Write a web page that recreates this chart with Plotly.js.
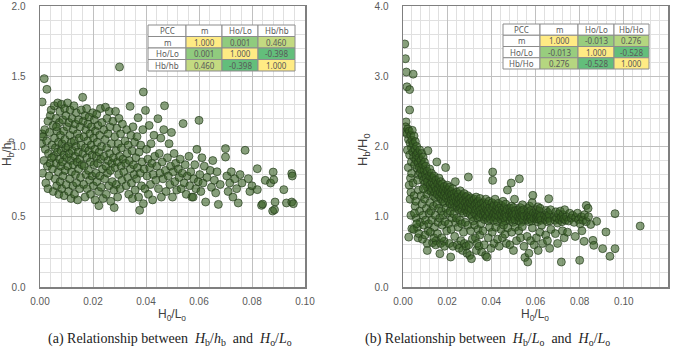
<!DOCTYPE html>
<html><head><meta charset="utf-8">
<script src="https://cdn.plot.ly/plotly-3.0.1.min.js"></script>
<style>html,body{margin:0;padding:0;background:#fff}#chart{width:675px;height:349px}</style>
</head><body><div id="chart"></div>
<script>
// ---- (a) Hb/hb vs Ho/Lo ----
const aPoints = [
[0.0008,1.317],[0.0016,1.483],[0.0026,1.407],[0.0006,1.02],[0.0008,1.09],[0.0010,0.81],[0.0012,1.07],[0.0015,0.90],[0.0018,1.12],[0.0020,0.98],[0.0022,0.74],[0.0025,1.04],[0.0028,0.86],[0.0030,1.18],[0.0032,0.95],[0.0034,0.79],[0.0036,1.10],[0.0038,0.88],[0.0039,1.22],[0.0030,0.70],
[0.0042,1.26],[0.0045,1.01],[0.0047,0.84],[0.0049,1.15],[0.0050,0.68],[0.0052,0.93],[0.0054,1.29],[0.0055,1.06],[0.0057,0.77],[0.0058,0.99],[0.0060,1.20],[0.0061,0.88],[0.0063,0.72],[0.0064,1.11],[0.0066,0.96],[0.0067,1.31],[0.0069,0.82],[0.0070,1.03],[0.0071,0.66],[0.0073,1.17],[0.0074,0.91],[0.0075,1.25],[0.0076,0.75],[0.0077,1.08],[0.0078,0.86],[0.0079,0.97],[0.0044,0.92],[0.0062,1.14],
[0.0081,1.30],[0.0082,0.70],[0.0083,1.02],[0.0085,0.89],[0.0086,1.19],[0.0087,0.79],[0.0089,1.11],[0.0090,0.94],[0.0091,0.65],[0.0093,1.27],[0.0094,1.05],[0.0095,0.83],[0.0097,0.99],[0.0098,1.22],[0.0099,0.73],[0.0101,0.92],[0.0102,1.14],[0.0104,1.31],[0.0105,0.86],[0.0106,1.00],[0.0108,0.68],[0.0109,1.17],[0.0110,0.95],[0.0112,0.77],[0.0113,1.08],[0.0114,1.26],[0.0116,0.90],[0.0117,0.63],[0.0118,1.03],[0.0119,0.82],
[0.0121,1.20],[0.0122,0.97],[0.0124,0.72],[0.0125,1.12],[0.0126,0.87],[0.0128,1.29],[0.0129,1.04],[0.0130,0.66],[0.0132,0.93],[0.0133,1.16],[0.0134,0.80],[0.0136,1.00],[0.0137,1.24],[0.0138,0.74],[0.0140,0.89],[0.0141,1.09],[0.0142,0.62],[0.0144,0.96],[0.0145,1.19],[0.0146,0.84],[0.0148,1.06],[0.0149,0.70],[0.0150,0.91],[0.0152,1.14],[0.0153,0.78],[0.0155,1.01],[0.0156,1.26],[0.0158,0.87],
[0.0161,1.35],[0.0162,0.95],[0.0163,1.18],[0.0165,0.73],[0.0166,1.07],[0.0167,0.86],[0.0169,1.22],[0.0170,0.64],[0.0171,0.99],[0.0173,1.12],[0.0174,0.80],[0.0176,1.27],[0.0177,0.92],[0.0178,0.70],[0.0180,1.04],[0.0181,1.16],[0.0183,0.83],[0.0184,0.97],[0.0185,1.21],[0.0187,0.76],[0.0188,1.09],[0.0190,0.89],[0.0191,0.66],[0.0193,1.01],[0.0194,1.14],[0.0196,0.79],[0.0197,0.94],[0.0199,1.24],
[0.0201,0.72],[0.0202,1.06],[0.0204,0.87],[0.0205,1.19],[0.0207,0.98],[0.0208,0.62],[0.0209,1.11],[0.0211,0.81],[0.0212,0.93],[0.0214,1.23],[0.0215,0.75],[0.0216,1.03],[0.0218,0.88],[0.0219,1.15],[0.0221,0.68],[0.0222,0.579],[0.0223,0.96],[0.0225,1.08],[0.0226,0.79],[0.0228,1.27],[0.0229,0.91],[0.0231,0.71],[0.0232,1.00],[0.0234,1.17],[0.0236,0.84],[0.0238,0.63],
[0.0241,1.12],[0.0242,0.93],[0.0244,0.77],[0.0246,1.05],[0.0247,1.28],[0.0249,0.86],[0.0250,0.66],[0.0252,0.99],[0.0253,1.20],[0.0255,0.81],[0.0257,1.09],[0.0258,0.90],[0.0260,0.72],[0.0261,1.25],[0.0263,0.95],[0.0264,1.14],[0.0266,0.83],[0.0267,0.61],[0.0269,1.02],[0.0271,0.88],[0.0273,0.75],[0.0275,1.18],[0.0277,0.92],[0.0279,0.69],
[0.0280,0.565],[0.0282,1.07],[0.0283,0.85],[0.0285,1.25],[0.0287,0.97],[0.0288,0.73],[0.0290,1.13],[0.0292,0.89],[0.0293,0.64],[0.0295,1.02],[0.0297,0.80],[0.0298,1.20],[0.0300,1.566],[0.0300,0.93],[0.0302,0.70],[0.0304,1.09],[0.0306,0.86],[0.0307,0.99],[0.0309,0.76],[0.0311,1.16],[0.0313,0.91],[0.0316,0.82],
[0.0321,1.04],[0.0323,0.88],[0.0325,0.72],[0.0327,1.12],[0.0329,0.95],[0.0331,0.78],[0.0333,1.01],[0.0335,0.66],[0.0337,0.90],[0.0340,1.286],[0.0341,0.84],[0.0343,1.08],[0.0345,0.74],[0.0347,0.97],[0.0349,0.63],[0.0351,1.14],[0.0353,0.87],[0.0355,0.80],[0.0357,1.03],[0.0359,0.69],
[0.0362,0.92],[0.0364,0.77],[0.0366,1.07],[0.0368,0.85],[0.0370,1.205],[0.0372,0.64],[0.0374,0.96],[0.0376,0.546],[0.0378,0.81],[0.0380,1.01],[0.0383,0.72],[0.0385,0.89],[0.0388,1.12],[0.0390,1.388],[0.0390,0.593],[0.0393,0.84],[0.0396,0.70],[0.0398,1.257],
[0.0402,0.98],[0.0404,0.79],[0.0407,0.91],[0.0409,0.66],[0.0412,1.15],[0.0414,0.85],[0.0417,0.73],[0.0419,1.02],[0.0422,0.88],[0.0425,0.62],[0.0427,0.80],[0.0430,1.08],[0.0433,0.93],[0.0437,0.76],
[0.0441,0.86],[0.0445,1.198],[0.0447,0.70],[0.0450,0.95],[0.0453,0.81],[0.0456,1.06],[0.0458,0.64],[0.0461,0.89],[0.0464,0.77],[0.0467,1.12],[0.0470,1.29],[0.0473,0.83],[0.0476,0.68],
[0.0481,0.92],[0.0484,0.79],[0.0487,1.02],[0.0490,0.73],[0.0493,0.86],[0.0496,1.10],[0.0500,0.64],[0.0503,0.82],[0.0506,0.95],[0.0509,0.75],[0.0512,0.88],[0.0516,0.69],
[0.0522,0.84],[0.0525,0.78],[0.0529,0.91],[0.0533,0.70],[0.0537,0.81],[0.0540,1.163],[0.0544,0.74],[0.0548,0.87],[0.0552,0.66],[0.0556,0.79],
[0.0562,0.93],[0.0565,0.72],[0.0569,0.82],[0.0573,0.64],[0.0578,0.640],[0.0580,0.77],[0.0584,0.87],[0.0588,0.70],[0.0592,0.98],[0.0597,0.75],
[0.0600,1.186],[0.0603,0.80],[0.0607,0.68],[0.0611,0.92],[0.0615,0.74],[0.0620,0.86],[0.0625,0.605],[0.0630,0.78],
[0.0642,0.83],[0.0647,0.71],[0.0652,0.90],[0.0658,0.76],[0.0663,0.67],[0.0668,0.82],[0.0673,0.588],[0.0680,0.73],
[0.0700,0.985],[0.0700,0.925],[0.0705,0.79],[0.0710,0.68],[0.0716,0.74],[0.0722,0.82],[0.0728,0.64],[0.0735,0.77],[0.0742,0.70],[0.0748,0.598],[0.0755,0.80],[0.0762,0.74],[0.0774,0.973],[0.0786,0.771],[0.0792,0.68],
[0.0800,0.72],[0.0820,0.842],[0.0820,0.693],[0.0836,0.581],[0.0840,0.59],[0.0850,0.759],[0.0870,0.74],[0.0878,0.541],[0.0880,0.818],[0.0882,0.764],[0.0887,0.605],[0.0885,0.55],[0.0920,0.693],[0.0930,0.598],[0.0950,0.807],[0.0952,0.79],[0.0950,0.605],[0.0956,0.593]
];
// ---- (b) Hb/Ho vs Ho/Lo ----
const bPoints = [
[0.0008,3.46],[0.0011,3.25],[0.0015,3.06],[0.0046,3.03],[0.0018,2.85],[0.0030,2.81],[0.0030,2.52],[0.0014,2.35],[0.0008,2.21],[0.0026,0.71],
[0.0012,2.28],[0.0018,2.18],[0.0022,2.25],[0.0025,2.10],[0.0028,2.22],[0.0032,2.05],[0.0035,2.16],[0.0038,1.98],[0.0020,1.95],[0.0024,1.70],[0.0030,1.88],[0.0034,1.55],[0.0036,1.35],[0.0028,1.45],[0.0040,2.09],[0.0038,1.78],[0.0032,1.25],[0.0036,1.02],[0.0040,0.83],[0.0039,1.62],
[0.0042,2.23],[0.0044,1.92],[0.0046,2.04],[0.0048,1.85],[0.0050,2.15],[0.0052,1.74],[0.0054,1.96],[0.0056,2.07],[0.0058,1.81],[0.0060,1.88],[0.0062,2.00],[0.0064,1.69],[0.0066,1.91],[0.0068,1.77],[0.0070,1.60],[0.0072,1.84],[0.0074,1.70],[0.0076,1.95],[0.0078,1.63],
[0.0045,1.48],[0.0050,1.30],[0.0055,1.15],[0.0060,0.98],[0.0065,0.85],[0.0048,0.82],[0.0070,1.38],[0.0075,1.08],[0.0078,0.92],[0.0058,1.22],[0.0068,0.70],[0.0072,0.76],[0.0062,0.90],[0.0052,1.05],[0.0066,1.52],
[0.0081,1.80],[0.0083,1.67],[0.0085,1.90],[0.0087,1.58],[0.0089,1.74],[0.0091,1.85],[0.0093,1.52],[0.0095,1.66],[0.0097,1.78],[0.0099,1.47],[0.0101,1.60],[0.0103,1.72],[0.0105,1.55],[0.0107,1.43],[0.0109,1.65],[0.0111,1.50],[0.0113,1.94],[0.0115,1.38],[0.0117,1.58],
[0.0082,1.30],[0.0086,1.18],[0.0090,1.02],[0.0094,0.88],[0.0098,1.25],[0.0102,0.95],[0.0106,1.12],[0.0110,0.62],[0.0110,0.52],[0.0114,0.80],[0.0118,1.05],[0.0088,0.68],[0.0100,0.74],[0.0108,1.32],[0.0116,0.90],[0.0092,1.40],
[0.0121,1.68],[0.0123,1.45],[0.0125,1.57],[0.0127,1.36],[0.0129,1.62],[0.0131,1.49],[0.0133,1.40],[0.0135,1.55],[0.0137,1.30],[0.0139,1.46],[0.0141,1.58],[0.0143,1.35],[0.0145,1.43],[0.0147,1.27],[0.0149,1.52],[0.0151,1.38],[0.0153,1.78],[0.0155,1.32],[0.0157,1.47],
[0.0122,1.20],[0.0126,1.08],[0.0130,0.95],[0.0134,0.63],[0.0138,1.15],[0.0142,0.85],[0.0146,1.02],[0.0150,0.66],[0.0154,1.18],[0.0158,0.92],[0.0124,0.78],[0.0140,0.70],[0.0148,0.60],[0.0156,0.76],
[0.0161,1.40],[0.0163,1.55],[0.0165,1.29],[0.0167,1.45],[0.0169,1.35],[0.0171,1.50],[0.0173,1.25],[0.0175,1.40],[0.0177,1.32],[0.0179,1.47],[0.0181,1.22],[0.0183,1.38],[0.0185,1.30],[0.0187,1.43],[0.0189,1.20],[0.0191,1.34],[0.0193,1.70],[0.0195,1.27],[0.0197,1.39],
[0.0162,1.12],[0.0166,0.98],[0.0167,0.474],[0.0170,0.62],[0.0174,1.08],[0.0178,0.88],[0.0182,1.02],[0.0186,0.65],[0.0190,0.93],[0.0194,1.12],[0.0198,0.80],[0.0176,0.70],[0.0188,0.58],
[0.0201,1.45],[0.0203,1.30],[0.0205,1.38],[0.0207,1.22],[0.0209,1.34],[0.0211,1.42],[0.0213,1.18],[0.0215,1.29],[0.0217,1.36],[0.0219,1.24],[0.0221,1.32],[0.0223,1.16],[0.0225,1.40],[0.0227,1.26],[0.0229,1.20],[0.0231,1.33],[0.0233,1.13],[0.0235,1.28],[0.0237,1.50],
[0.0202,1.05],[0.0206,0.90],[0.0210,0.62],[0.0214,1.08],[0.0216,0.427],[0.0218,0.82],[0.0222,0.98],[0.0226,0.58],[0.0230,1.04],[0.0234,0.72],[0.0238,0.92],
[0.0241,1.22],[0.0243,1.35],[0.0245,1.15],[0.0247,1.28],[0.0249,1.19],[0.0251,1.32],[0.0253,1.10],[0.0255,1.25],[0.0257,1.18],[0.0259,1.37],[0.0261,1.12],[0.0263,1.27],[0.0265,1.20],[0.0267,1.08],[0.0269,1.30],[0.0271,1.16],[0.0273,1.23],[0.0275,1.05],[0.0277,1.33],
[0.0242,0.98],[0.0246,0.60],[0.0250,0.85],[0.0254,0.55],[0.0258,0.95],[0.0262,0.66],[0.0266,0.90],[0.0270,0.52],[0.0274,0.78],[0.0278,0.62],
[0.0281,1.20],[0.0283,1.10],[0.0285,1.28],[0.0287,1.14],[0.0289,1.22],[0.0291,1.06],[0.0293,1.30],[0.0295,1.17],[0.0296,1.566],[0.0297,1.09],[0.0299,1.25],[0.0301,1.13],[0.0303,1.20],[0.0305,1.03],[0.0307,1.27],[0.0309,1.11],[0.0311,1.18],[0.0313,1.00],[0.0315,1.23],
[0.0282,0.92],[0.0286,0.58],[0.0290,0.48],[0.0294,0.88],[0.0298,0.60],[0.0302,0.45],[0.0306,0.80],[0.0310,0.403],[0.0314,0.68],[0.0318,0.94],
[0.0321,1.15],[0.0323,1.25],[0.0325,1.05],[0.0327,1.18],[0.0329,1.10],[0.0331,1.28],[0.0333,1.02],[0.0335,1.20],[0.0337,1.12],[0.0339,0.98],[0.0341,1.22],[0.0343,1.08],[0.0345,1.16],[0.0347,1.00],[0.0349,1.26],[0.0351,1.10],[0.0353,1.04],[0.0355,1.19],
[0.0324,0.88],[0.0328,0.70],[0.0332,0.52],[0.0336,0.62],[0.0340,0.82],[0.0344,0.58],[0.0348,0.74],[0.0352,0.90],[0.0356,0.50],
[0.0361,1.12],[0.0363,1.02],[0.0365,1.20],[0.0367,1.07],[0.0369,0.96],[0.0371,1.15],[0.0373,1.04],[0.0375,1.25],[0.0377,0.99],[0.0379,1.10],[0.0381,1.18],[0.0383,1.01],[0.0385,1.08],[0.0387,0.94],[0.0389,1.22],[0.0391,1.05],[0.0393,1.13],[0.0395,0.97],
[0.0362,0.80],[0.0368,0.60],[0.0374,0.45],[0.0380,0.427],[0.0386,0.70],[0.0392,0.85],[0.0398,0.55],
[0.0401,1.09],[0.0403,1.20],[0.0405,1.00],[0.0406,1.637],[0.0406,1.518],[0.0407,1.14],[0.0409,1.04],[0.0411,0.95],[0.0413,1.17],[0.0415,1.06],[0.0417,1.25],[0.0419,0.99],[0.0421,1.10],[0.0423,1.03],[0.0425,1.15],[0.0427,0.93],[0.0429,1.08],[0.0431,1.19],[0.0433,1.01],[0.0435,1.12],
[0.0404,0.78],[0.0412,0.62],[0.0420,0.85],[0.0428,0.68],[0.0436,0.58],
[0.0441,1.05],[0.0443,0.96],[0.0445,1.16],[0.0447,1.02],[0.0449,1.10],[0.0451,0.93],[0.0453,1.22],[0.0455,1.07],[0.0457,0.99],[0.0459,1.13],[0.0461,1.04],[0.0463,0.94],[0.0465,1.18],[0.0467,1.06],[0.0469,1.00],[0.0471,1.11],[0.0473,1.38],
[0.0444,0.82],[0.0450,0.70],[0.0456,0.88],[0.0462,0.75],[0.0468,0.62],[0.0474,0.84],
[0.0481,1.02],[0.0483,1.12],[0.0485,0.95],[0.0487,1.07],[0.0489,1.00],[0.0490,1.48],[0.0491,1.15],[0.0493,0.97],[0.0495,1.08],[0.0497,1.03],[0.0499,0.92],[0.0501,1.13],[0.0503,1.01],[0.0505,1.25],[0.0507,0.96],[0.0509,1.09],[0.0511,1.04],
[0.0484,0.60],[0.0492,0.78],[0.0500,0.52],[0.0508,0.85],[0.0514,0.66],
[0.0521,1.00],[0.0523,1.10],[0.0525,0.94],[0.0527,1.54],[0.0527,1.05],[0.0529,0.98],[0.0531,1.13],[0.0533,1.02],[0.0535,0.92],[0.0537,1.08],[0.0539,0.99],[0.0541,1.17],[0.0543,1.04],[0.0545,0.95],[0.0547,1.10],[0.0549,1.01],
[0.0524,0.80],[0.0532,0.70],[0.0540,0.86],[0.0548,0.58],[0.0552,0.42],
[0.0561,1.03],[0.0563,0.96],[0.0565,1.12],[0.0565,0.356],[0.0567,1.00],[0.0569,1.07],[0.0571,0.93],[0.0573,1.15],[0.0575,1.02],[0.0577,0.97],[0.0579,1.09],[0.0581,1.00],[0.0583,0.94],[0.0585,1.20],[0.0588,1.305],[0.0590,1.05],[0.0592,0.98],
[0.0562,0.72],[0.0570,0.48],[0.0578,0.66],[0.0586,0.84],[0.0594,0.60],
[0.0601,1.04],[0.0603,0.97],[0.0605,1.10],[0.0607,1.00],[0.0609,0.93],[0.0611,1.14],[0.0613,1.02],[0.0615,0.96],[0.0617,1.08],[0.0619,0.99],[0.0621,1.12],[0.0623,1.01],[0.0625,0.95],
[0.0604,0.70],[0.0612,0.52],[0.0620,0.78],[0.0628,0.88],[0.0632,0.62],
[0.0641,1.02],[0.0644,0.96],[0.0647,1.09],[0.0650,1.00],[0.0653,0.93],[0.0656,1.06],[0.0659,0.98],[0.0660,1.257],[0.0662,1.03],[0.0665,0.94],[0.0668,1.10],
[0.0646,0.74],[0.0654,0.66],[0.0664,0.55],[0.0670,0.82],
[0.0684,1.00],[0.0688,0.95],[0.0692,1.07],[0.0696,0.98],[0.0700,0.91],[0.0704,1.04],[0.0708,0.96],[0.0712,1.08],[0.0716,0.99],[0.0720,0.93],[0.0724,1.03],[0.0728,0.97],[0.0732,1.10],[0.0736,0.95],[0.0740,1.00],
[0.0690,0.76],[0.0700,0.62],[0.0717,0.356],[0.0722,0.80],[0.0730,0.70],[0.0745,0.78],[0.0750,0.94],[0.0755,1.05],
[0.0762,0.98],[0.0768,1.02],[0.0775,0.92],[0.0782,0.99],[0.0790,1.05],[0.0795,0.96],[0.0800,0.380],[0.0802,0.90],[0.0808,1.00],[0.0815,0.95],[0.0822,1.03],[0.0830,1.16],[0.0830,0.93],[0.0840,1.00],[0.0850,0.89],[0.0860,0.664],[0.0864,0.593],[0.0877,0.935],[0.0780,0.72],[0.0810,0.80],[0.0820,0.65],[0.0838,1.12],
[0.0904,0.546],[0.0919,0.783],[0.0937,0.437],[0.0960,1.044],[0.0960,0.546],[0.1074,0.868]
];
// PCC tables
const tableHeadA = ["PCC","m","Ho/Lo","Hb/hb"];
const tableRowsA = ["m","Ho/Lo","Hb/hb"];
const pccA = [[1.000,0.001,0.460],[0.001,1.000,-0.398],[0.460,-0.398,1.000]];
const tableHeadB = ["PCC","m","Ho/Lo","Hb/Ho"];
const tableRowsB = ["m","Ho/Lo","Hb/Ho"];
const pccB = [[1.000,-0.013,0.276],[-0.013,1.000,-0.528],[0.276,-0.528,1.000]];

const W=675,H=349;
const px=x=>x/W, py=y=>1-y/H;
const marker={size:8,color:'rgba(55,95,35,0.6)',line:{color:'rgba(36,60,26,0.85)',width:0.8}};
const traces=[
 {type:'scatter',mode:'markers',x:aPoints.map(p=>p[0]),y:aPoints.map(p=>p[1]),xaxis:'x',yaxis:'y',marker:marker,hoverinfo:'skip'},
 {type:'scatter',mode:'markers',x:bPoints.map(p=>p[0]),y:bPoints.map(p=>p[1]),xaxis:'x2',yaxis:'y2',marker:marker,hoverinfo:'skip'}
];
const tickfont={family:'Liberation Sans, Arial',size:10,color:'#595959'};
function ax(range,dtick,minor,fmt,domain,anchor){
 return {range:range,dtick:dtick,tick0:0,domain:domain,anchor:anchor,tickformat:fmt,
  showgrid:true,gridcolor:'#c0c0c0',gridwidth:1,zeroline:false,
  minor:{dtick:minor,showgrid:true,gridcolor:'#e0e0e0',gridwidth:1,ticks:''},
  showline:true,mirror:true,linecolor:'#7f7f7f',linewidth:1.5,ticks:'',ticklabelstandoff:4,
  tickfont:tickfont,fixedrange:true};
}
const ydom=[py(287),py(6)];
const layout={width:W,height:H,margin:{l:0,r:0,t:0,b:0},paper_bgcolor:'#fff',plot_bgcolor:'#fff',showlegend:false,
 xaxis:ax([0,0.1],0.02,0.004,'.2f',[px(40),px(305)],'y'),
 yaxis:ax([0,2],0.5,0.1,'.1f',ydom,'x'),
 xaxis2:ax([0,0.12],0.02,0.004,'.2f',[px(403),px(668)],'y2'),
 yaxis2:ax([0,4],1,0.2,'.1f',ydom,'x2'),
 shapes:[],annotations:[]};
layout.yaxis.ticklabelstandoff=11; layout.yaxis2.ticklabelstandoff=11;

// colour scale (Excel 2-colour: green at min -> yellow at max)
function cellColor(v,vals){
 const mn=Math.min(...vals),mx=Math.max(...vals);const t=(v-mn)/(mx-mn);
 const g=[99,190,123],yl=[255,235,132];
 const c=g.map((a,i)=>Math.round(a+(yl[i]-a)*t));return 'rgb('+c.join(',')+')';
}
function ann(x,y,text,font,extra){
 return Object.assign({xref:'paper',yref:'paper',x:px(x),y:py(y),text:text,showarrow:false,font:font,xanchor:'center',yanchor:'middle'},extra||{});
}
function drawTable(xe,ye,head,rows,vals){
 const flat=[].concat(...vals);
 const tf={family:'Noto Sans, Liberation Sans',size:8,color:'#595959'};
 for(let r=0;r<4;r++)for(let c=0;c<4;c++){
  let fill='#fff',txt;
  if(r===0)txt=head[c];else if(c===0)txt=rows[r-1];else{fill=cellColor(vals[r-1][c-1],flat);txt=vals[r-1][c-1].toFixed(3);}
  layout.shapes.push({type:'rect',xref:'paper',yref:'paper',x0:px(xe[c]),x1:px(xe[c+1]),y0:py(ye[r+1]),y1:py(ye[r]),fillcolor:fill,line:{color:'#8c8c8c',width:1},layer:'above'});
  layout.annotations.push(ann((xe[c]+xe[c+1])/2,(ye[r]+ye[r+1])/2,txt,tf));
 }
}
drawTable([148,186,222,258,295],[25,36.5,48,59.5,71],tableHeadA,tableRowsA,pccA);
drawTable([503,540,578,614,649],[24,35.25,46.5,57.75,69],tableHeadB,tableRowsB,pccB);

const tfont={family:'Liberation Sans, Arial',size:12,color:'#404040'};
layout.annotations.push(
 ann(172,315,'H<sub>0</sub>/L<sub>o</sub>',tfont),
 ann(535,315,'H<sub>0</sub>/L<sub>o</sub>',tfont),
 ann(8,152,'H<sub>b</sub>/h<sub>b</sub>',tfont,{textangle:-90}),
 ann(363,150,'H<sub>b</sub>/H<sub>0</sub>',{family:'Liberation Sans, Arial',size:13,color:'#404040'},{textangle:-90})
);
const cfont={family:'Liberation Serif, Times New Roman',size:14,color:'#222'};
layout.annotations.push(
 ann(170,339,'(a) Relationship between  <i>H</i><sub>b</sub>/<i>h</i><sub>b</sub>  and  <i>H</i><sub>o</sub>/<i>L</i><sub>o</sub>',cfont),
 ann(487,339,'(b) Relationship between  <i>H</i><sub>b</sub>/<i>L</i><sub>o</sub>  and  <i>H</i><sub>o</sub>/<i>L</i><sub>o</sub>',cfont)
);
Plotly.newPlot('chart',traces,layout,{staticPlot:true,displayModeBar:false});
</script></body></html>
